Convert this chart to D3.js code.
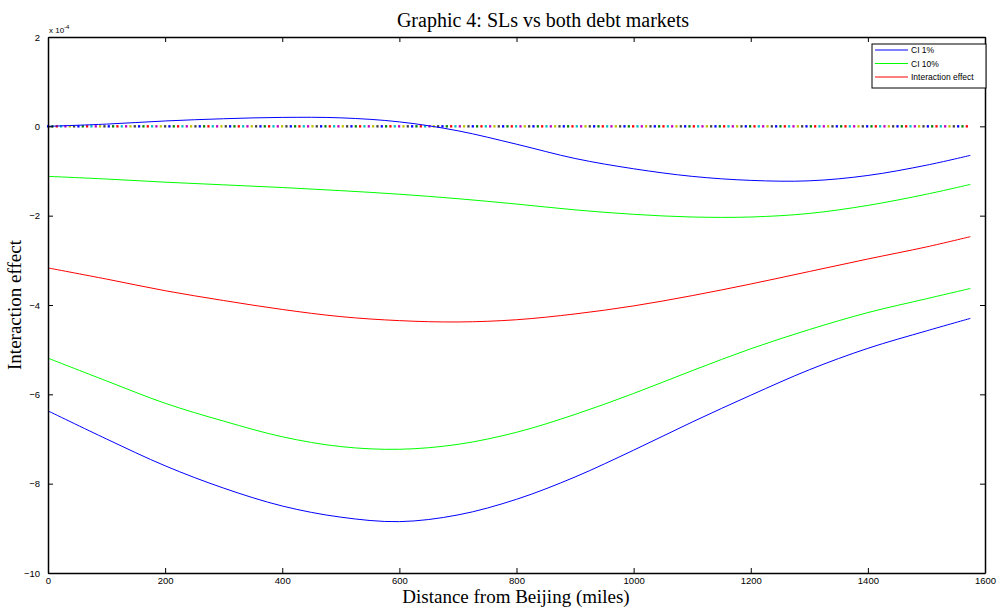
<!DOCTYPE html>
<html>
<head>
<meta charset="utf-8">
<script src="https://cdn.jsdelivr.net/npm/d3@7"></script>
<style>
  html, body { margin: 0; padding: 0; background: #fff; }
  svg { display: block; }
</style>
</head>
<body>
<svg id="chart" width="1003" height="612"></svg>
<script>
// Interaction effect of SLs on both debt markets, in units of 1e-4
const distance = [0, 100, 200, 300, 400, 500, 600, 700, 800, 900, 1000, 1100, 1200, 1300, 1400, 1500, 1575];
const ci1Upper  = [0.00, 0.05, 0.12, 0.17, 0.20, 0.19, 0.10, -0.10, -0.40, -0.72, -0.95, -1.12, -1.21, -1.22, -1.10, -0.87, -0.65];
const ci10Upper = [-1.12, -1.18, -1.25, -1.31, -1.37, -1.44, -1.52, -1.62, -1.74, -1.87, -1.97, -2.03, -2.03, -1.95, -1.77, -1.52, -1.30];
const effect    = [-3.17, -3.42, -3.68, -3.90, -4.10, -4.26, -4.35, -4.38, -4.33, -4.20, -4.02, -3.79, -3.53, -3.25, -2.97, -2.70, -2.47];
const ci10Lower = [-5.19, -5.70, -6.20, -6.60, -6.95, -7.17, -7.23, -7.12, -6.85, -6.45, -5.98, -5.47, -4.98, -4.55, -4.17, -3.86, -3.63];
const ci1Lower  = [-6.37, -7.00, -7.60, -8.10, -8.50, -8.75, -8.85, -8.70, -8.35, -7.85, -7.25, -6.62, -6.02, -5.45, -4.97, -4.58, -4.30];

const xTicks = [0, 200, 400, 600, 800, 1000, 1200, 1400, 1600];
const yTicks = [-10, -8, -6, -4, -2, 0, 2];
const legendLabels = ["CI 1%", "CI 10%", "Interaction effect"];
const zeroLineColors = ["#0000ff", "#008000", "#ff0000", "#00bfbf", "#bf00bf", "#bfbf00", "#404040"];

const svg = d3.select("#chart");
const plotLeft = 48, plotRight = 985, plotTop = 37, plotBottom = 573;

const x = d3.scaleLinear().domain([0, 1600]).range([plotLeft, plotRight]);
const y = d3.scaleLinear().domain([-10, 2]).range([plotBottom, plotTop]);

const tickFont = "Arial, 'Liberation Sans', sans-serif";
const serif = "'Times New Roman', 'Liberation Serif', serif";

// Zero reference line drawn as multicoloured dots
const zeroG = svg.append("g");
const zeroXs = d3.range(0, 1575, 7.4);
zeroG.selectAll("rect").data(zeroXs).join("rect")
  .attr("x", d => x(d) - 1)
  .attr("y", y(0) - 1.2)
  .attr("width", 2.2)
  .attr("height", 2.4)
  .attr("fill", (d, i) => zeroLineColors[i % zeroLineColors.length]);

// Curves
const line = d3.line()
  .x((d, i) => x(distance[i]))
  .y(d => y(d))
  .curve(d3.curveCatmullRom);

const series = [
  { values: ci1Upper,  color: "#0000ff" },
  { values: ci1Lower,  color: "#0000ff" },
  { values: ci10Upper, color: "#00ff00" },
  { values: ci10Lower, color: "#00ff00" },
  { values: effect,    color: "#ff0000" }
];
svg.append("g").selectAll("path").data(series).join("path")
  .attr("d", d => line(d.values))
  .attr("fill", "none")
  .attr("stroke", d => d.color)
  .attr("stroke-width", 1);

// Axes: ticks pointing inward on all four sides
const axisBottom = d3.axisBottom(x).tickValues(xTicks).tickSizeInner(-5).tickSizeOuter(0).tickPadding(9).tickFormat(d3.format("d"));
const axisTop = d3.axisTop(x).tickValues(xTicks).tickSizeInner(-5).tickSizeOuter(0).tickFormat("");
const axisLeft = d3.axisLeft(y).tickValues(yTicks).tickSizeInner(-5).tickSizeOuter(0).tickPadding(8).tickFormat(d3.format("d"));
const axisRight = d3.axisRight(y).tickValues(yTicks).tickSizeInner(-5).tickSizeOuter(0).tickFormat("");

function styleAxis(g) {
  g.select(".domain").attr("stroke", "#000").attr("stroke-width", 1.5);
  g.selectAll(".tick line").attr("stroke", "#000").attr("stroke-width", 1);
  g.selectAll(".tick text").attr("font-family", tickFont).attr("font-size", 9.5).attr("fill", "#000");
}
svg.append("g").attr("transform", `translate(0,${plotBottom})`).call(axisBottom).call(styleAxis)
  .selectAll(".tick text").attr("dy", "0.2em");
svg.append("g").attr("transform", `translate(0,${plotTop})`).call(axisTop).call(styleAxis);
svg.append("g").attr("transform", `translate(${plotLeft},0)`).call(axisLeft).call(styleAxis);
svg.append("g").attr("transform", `translate(${plotRight},0)`).call(axisRight).call(styleAxis);

// Exponent label
const expo = svg.append("text").attr("x", 49).attr("y", 33)
  .attr("font-family", tickFont).attr("font-size", 8).attr("fill", "#000");
expo.append("tspan").text("x 10");
expo.append("tspan").attr("dy", -4).attr("font-size", 6).text("-4");

// Title and axis labels
svg.append("text").attr("x", 543).attr("y", 27).attr("text-anchor", "middle")
  .attr("font-family", serif).attr("font-size", 20).text("Graphic 4: SLs vs both debt markets");
svg.append("text").attr("x", 516).attr("y", 603).attr("text-anchor", "middle")
  .attr("font-family", serif).attr("font-size", 19).text("Distance from Beijing (miles)");
svg.append("text").attr("transform", `translate(21,${(plotTop + plotBottom) / 2}) rotate(-90)`).attr("text-anchor", "middle")
  .attr("font-family", serif).attr("font-size", 19).text("Interaction effect");

// Legend
const lg = svg.append("g").attr("transform", "translate(872,44)");
lg.append("rect").attr("x", 0).attr("y", 0).attr("width", 114).attr("height", 44)
  .attr("fill", "#fff").attr("stroke", "#000").attr("stroke-width", 1);
const legendColors = ["#0000ff", "#00ff00", "#ff0000"];
legendLabels.forEach((lab, i) => {
  const ly = 6 + i * 13.5;
  lg.append("line").attr("x1", 3).attr("x2", 36).attr("y1", ly).attr("y2", ly)
    .attr("stroke", legendColors[i]).attr("stroke-width", 1);
  lg.append("text").attr("x", 39).attr("y", ly + 3).attr("font-family", tickFont)
    .attr("font-size", 8.5).attr("fill", "#000").text(lab);
});
</script>
</body>
</html>
